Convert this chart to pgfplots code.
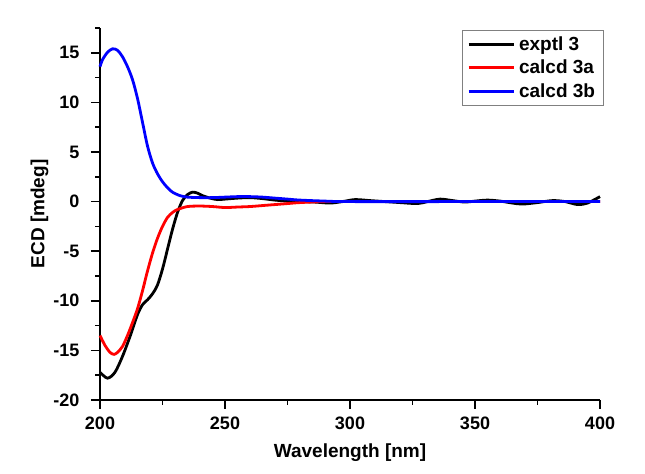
\documentclass[border=0pt]{standalone}
\usepackage{pgfplots}
\pgfplotsset{compat=1.18}
\usepackage{fontspec}
\setmainfont{Liberation Sans}
\begin{document}
\begin{tikzpicture}[x=1bp,y=1bp]
\path[use as bounding box] (0,0) rectangle (645,474);
\begin{axis}[
  at={(100bp,74bp)}, anchor=south west,
  scale only axis, width=500bp, height=372bp,
  xmin=200, xmax=400, ymin=-20, ymax=17.5,
  axis x line*=bottom, axis y line*=left,
  axis line style={line width=1.5pt, -},
  xtick={200,250,...,400}, minor xtick={225,275,...,375},
  ytick={-20,-15,...,15}, minor ytick={-17.5,-12.5,...,17.5},
  tick align=outside,
  major tick length=9bp, minor tick length=5bp,
  tick style={line width=1.5pt, black},
  /pgf/number format/assume math mode=true,
  ticklabel style={font=\fontsize{18bp}{20bp}\selectfont\bfseries},
  yticklabel style={xshift=-8bp},
  xticklabel style={yshift=-4bp},
  xlabel={Wavelength [nm]}, ylabel={ECD [mdeg]},
  label style={font=\fontsize{19bp}{21bp}\selectfont\bfseries},
  xlabel style={at={(axis description cs:0.5,0)}, anchor=north, yshift=-40bp},
  ylabel style={at={(axis description cs:0,0.5)}, anchor=south, yshift=48bp},
  legend style={at={(504bp,370bp)}, anchor=north east, draw=gray, line width=0.8pt,
    font=\fontsize{19bp}{21bp}\selectfont\bfseries, row sep=4bp, inner sep=4.5bp,
    nodes={inner xsep=4bp}},
  legend cell align=left,
  legend image code/.code={\draw[line width=3bp,#1, line width=3bp] (0bp,0bp) -- (45bp,0bp);},
  clip=false,
]
\addplot[black, line width=2.8bp, smooth] coordinates {
(200,-17.2) (203,-17.8) (206,-17.2) (209,-15.6) (212,-13.6) (215,-11.4) (217,-10.4) (219,-9.9) (221,-9.3) (223,-8.4) (225,-6.8) (227,-4.8) (229,-2.8) (231,-1.1) (233,0.1) (235,0.7) (237,0.95) (239,0.85) (241,0.6) (244,0.35) (247,0.2) (250,0.25) (255,0.35) (260,0.4) (265,0.3) (270,0.15) (275,0.05) (280,0) (286,-0.05) (292,-0.15) (297,0) (302,0.2) (308,0.1) (314,0) (320,-0.1) (327,-0.2) (331,0) (336,0.25) (341,0.1) (346,-0.05) (350,0.05) (355,0.15) (360,0.05) (365,-0.15) (369,-0.25) (375,-0.1) (381,0.1) (386,0) (391,-0.3) (395,-0.15) (400,0.5)
};
\addlegendentry{exptl 3}
\addplot[red, line width=2.8bp, smooth] coordinates {
(200,-13.5) (202,-14.5) (204,-15.2) (205.6,-15.4) (207,-15.2) (209,-14.6) (211,-13.5) (213,-12.2) (215,-10.8) (217,-9.0) (219,-7.0) (221,-5.2) (223,-3.7) (225,-2.5) (227,-1.6) (229,-1.1) (231,-0.8) (235,-0.5) (240,-0.45) (245,-0.5) (250,-0.6) (255,-0.55) (260,-0.5) (265,-0.4) (270,-0.3) (275,-0.2) (280,-0.1) (290,0) (300,0) (350,0) (400,0)
};
\addlegendentry{calcd 3a}
\addplot[blue, line width=2.8bp, smooth] coordinates {
(200,13.6) (201,14.3) (203,15.05) (205,15.4) (207,15.25) (209,14.6) (211,13.6) (213,12.3) (215,10.4) (217,8.0) (219,5.6) (221,3.9) (223,2.8) (225,2.0) (227,1.4) (229,0.95) (232,0.6) (235,0.45) (240,0.4) (245,0.4) (250,0.45) (255,0.5) (260,0.5) (265,0.45) (270,0.35) (275,0.25) (280,0.15) (290,0.05) (300,0) (350,0) (400,0)
};
\addlegendentry{calcd 3b}
\end{axis}
\end{tikzpicture}
\end{document}
